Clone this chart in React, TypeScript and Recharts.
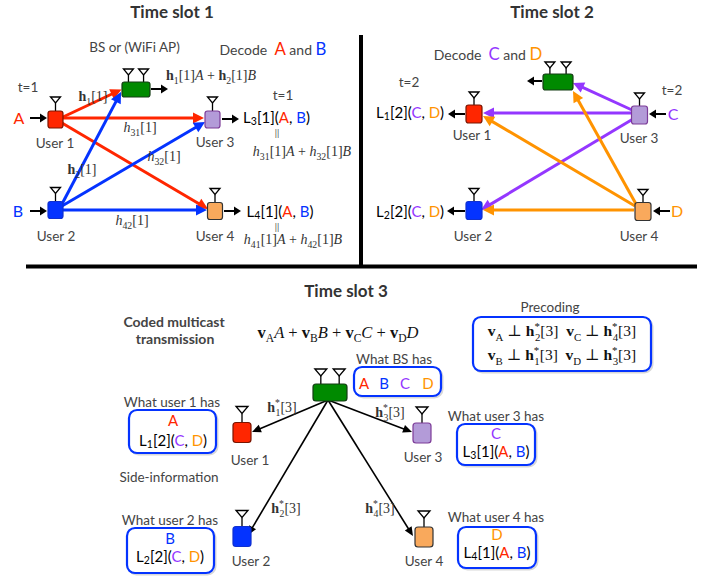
// Three-slot coded multicast diagram drawn on a ScatterChart whose hidden
// axes span the 715x581 canvas, so every mark goes through the chart scales.

import { ScatterChart, Scatter, XAxis, YAxis, ReferenceLine, ReferenceArea } from "recharts";

const W = 715;
const H = 581;

const RED = "#ff2600";
const BLUE = "#0433ff";
const PURPLE = "#9437ff";
const ORANGE = "#ff9300";

const SIGNAL_COLOR: Record<string, string> = { A: RED, B: BLUE, C: PURPLE, D: ORANGE };

// ---- nodes (diagram coordinates) ----
const slot1Nodes = [
  { id: "BS", x: 136, y: 89.5 },
  { id: "U1", x: 55.5, y: 119.5 },
  { id: "U2", x: 55.5, y: 210 },
  { id: "U3", x: 212.5, y: 119.5 },
  { id: "U4", x: 215, y: 211 },
];
const slot2Nodes = [
  { id: "BS", x: 558, y: 82 },
  { id: "U1", x: 474, y: 114 },
  { id: "U2", x: 474, y: 210.5 },
  { id: "U3", x: 639.5, y: 115 },
  { id: "U4", x: 643, y: 211.5 },
];
const slot3Nodes = [
  { id: "BS", x: 330, y: 392.5 },
  { id: "U1", x: 242, y: 432.5 },
  { id: "U2", x: 242, y: 536.5 },
  { id: "U3", x: 422, y: 433 },
  { id: "U4", x: 424, y: 537 },
];

// ---- links: [x1, y1, x2, y2, signal] ----
const slot1Links: [number, number, number, number, string][] = [
  [63, 117, 121.5, 89.5, "A"],
  [63, 118, 204, 118, "A"],
  [62, 123, 208, 209, "A"],
  [62, 204, 121, 92, "B"],
  [62, 206, 205, 122, "B"],
  [63, 210, 207, 210, "B"],
];
const slot2Links: [number, number, number, number, string][] = [
  [632, 110, 573, 83, "C"],
  [632, 113, 483, 113, "C"],
  [633, 119, 481, 210, "C"],
  [636, 204, 573, 91, "D"],
  [635, 206, 483, 116, "D"],
  [634, 210, 483, 210, "D"],
];
const slot3Links: [number, number, number, number][] = [
  [328, 400, 252, 432],
  [328, 400, 412, 432],
  [328, 400, 248, 535],
  [328, 400, 413, 536],
];
const ports: [number, number, number, number][] = [
  [30, 118, 47, 118],
  [30, 211, 47, 211],
  [151, 89, 168, 89],
  [222, 119, 239, 119],
  [224, 211, 241, 211],
  [542, 81, 527, 81],
  [465, 114, 448, 114],
  [666, 114, 649, 114],
  [465, 211, 447, 211],
  [670, 211, 653, 211],
];
const dividers: [number, number, number, number][] = [
  [361, 35, 361, 266],
  [26, 266.5, 697, 266.5],
];

// ---- rounded boxes: [x1, y1, x2, y2] ----
const boxes: [number, number, number, number][] = [
  [473, 317, 651, 371],
  [354, 367, 441, 396],
  [129, 410, 216, 453],
  [127, 528, 214, 573],
  [457, 424, 535, 465],
  [458, 527, 536, 568],
];

// ---- texts ----
const slot1Labels = [
  { x: 172, y: 12, kind: "title", text: "Time slot 1" },
  { x: 134.5, y: 47, kind: "caption", text: "BS or (WiFi AP)" },
  { x: 273, y: 50, kind: "decode", text: "Decode  {A} and {B}" },
  { x: 211, y: 75, kind: "math", text: "~h_{1}[1]A + ~h_{2}[1]B" },
  { x: 28, y: 87, kind: "caption", text: "t=1" },
  { x: 283, y: 95, kind: "caption", text: "t=1" },
  { x: 19, y: 118, kind: "signal", text: "{A}" },
  { x: 18, y: 211, kind: "signal", text: "{B}" },
  { x: 55, y: 143, kind: "caption", text: "User 1" },
  { x: 215, y: 142, kind: "caption", text: "User 3" },
  { x: 56, y: 236, kind: "caption", text: "User 2" },
  { x: 215, y: 236, kind: "caption", text: "User 4" },
  { x: 276.5, y: 118, kind: "tag", text: "L_{3}[1]({A}, {B})" },
  { x: 280, y: 212, kind: "tag", text: "L_{4}[1]({A}, {B})" },
  { x: 277, y: 133, kind: "eq", text: "||" },
  { x: 277, y: 227, kind: "eq", text: "||" },
  { x: 302, y: 151, kind: "math", text: "h_{31}[1]A + h_{32}[1]B" },
  { x: 293, y: 239, kind: "math", text: "h_{41}[1]A + h_{42}[1]B" },
  { x: 93, y: 96, kind: "math", text: "~h_{1}[1]" },
  { x: 140, y: 127, kind: "math", text: "h_{31}[1]" },
  { x: 164, y: 156, kind: "math", text: "h_{32}[1]" },
  { x: 82, y: 169, kind: "math", text: "~h_{2}[1]" },
  { x: 132, y: 220, kind: "math", text: "h_{42}[1]" },
];
const slot2Labels = [
  { x: 552, y: 12, kind: "title", text: "Time slot 2" },
  { x: 488, y: 55, kind: "decode", text: "Decode  {C} and {D}" },
  { x: 409, y: 82, kind: "caption", text: "t=2" },
  { x: 672, y: 90, kind: "caption", text: "t=2" },
  { x: 410, y: 113, kind: "tag", text: "L_{1}[2]({C}, {D})" },
  { x: 410, y: 212, kind: "tag", text: "L_{2}[2]({C}, {D})" },
  { x: 673, y: 114, kind: "signal", text: "{C}" },
  { x: 677, y: 211, kind: "signal", text: "{D}" },
  { x: 472, y: 135, kind: "caption", text: "User 1" },
  { x: 639, y: 138, kind: "caption", text: "User 3" },
  { x: 473, y: 236, kind: "caption", text: "User 2" },
  { x: 639, y: 236, kind: "caption", text: "User 4" },
];
const slot3Labels = [
  { x: 346, y: 291, kind: "title", text: "Time slot 3" },
  { x: 174, y: 322, kind: "head", text: "Coded multicast" },
  { x: 175, y: 339, kind: "head", text: "transmission" },
  { x: 338, y: 332, kind: "bigmath", text: "~v_{A}A + ~v_{B}B + ~v_{C}C + ~v_{D}D" },
  { x: 550, y: 307, kind: "caption", text: "Precoding" },
  { x: 562, y: 331, kind: "boxmath", text: "~v_{A} ⊥ ~h^{*}_{2}[3]  ~v_{C} ⊥ ~h^{*}_{4}[3]" },
  { x: 562, y: 355, kind: "boxmath", text: "~v_{B} ⊥ ~h^{*}_{1}[3]  ~v_{D} ⊥ ~h^{*}_{3}[3]" },
  { x: 394, y: 359, kind: "caption", text: "What BS has" },
  { x: 364, y: 384, kind: "box", text: "{A}" },
  { x: 384, y: 384, kind: "box", text: "{B}" },
  { x: 405, y: 384, kind: "box", text: "{C}" },
  { x: 428, y: 384, kind: "box", text: "{D}" },
  { x: 172, y: 402, kind: "caption", text: "What user 1 has" },
  { x: 173, y: 421, kind: "box", text: "{A}" },
  { x: 173, y: 441, kind: "tag", text: "L_{1}[2]({C}, {D})" },
  { x: 250, y: 460, kind: "caption", text: "User 1" },
  { x: 169, y: 477, kind: "caption", text: "Side-information" },
  { x: 170, y: 520, kind: "caption", text: "What user 2 has" },
  { x: 170, y: 539, kind: "box", text: "{B}" },
  { x: 170, y: 557, kind: "tag", text: "L_{2}[2]({C}, {D})" },
  { x: 251, y: 561, kind: "caption", text: "User 2" },
  { x: 423, y: 457, kind: "caption", text: "User 3" },
  { x: 424, y: 561, kind: "caption", text: "User 4" },
  { x: 282, y: 407, kind: "math", text: "~h^{*}_{1}[3]" },
  { x: 390, y: 412, kind: "math", text: "~h^{*}_{3}[3]" },
  { x: 286, y: 508, kind: "math", text: "~h^{*}_{2}[3]" },
  { x: 380, y: 508, kind: "math", text: "~h^{*}_{4}[3]" },
  { x: 496, y: 416, kind: "caption", text: "What user 3 has" },
  { x: 496, y: 434, kind: "box", text: "{C}" },
  { x: 496, y: 452, kind: "tag", text: "L_{3}[1]({A}, {B})" },
  { x: 496, y: 517, kind: "caption", text: "What user 4 has" },
  { x: 497, y: 535, kind: "box", text: "{D}" },
  { x: 497, y: 553, kind: "tag", text: "L_{4}[1]({A}, {B})" },
];

// ---- styles ----
const SANS = 'Lato, "Open Sans", sans-serif';
const SERIF = '"Liberation Serif", "DejaVu Serif", serif';

type TextStyle = {
  font: string; size: number; weight?: number; fill: string;
  math?: boolean; letter?: number; sup?: number; sub?: number;
};
const TEXT: Record<string, TextStyle> = {
  title: { font: SANS, size: 17, weight: 700, fill: "#333" },
  caption: { font: SANS, size: 13.5, fill: "#444" },
  decode: { font: SANS, size: 14, fill: "#444", letter: 1.2 },
  head: { font: SANS, size: 14, weight: 700, fill: "#444" },
  signal: { font: SANS, size: 16, fill: "#000" },
  box: { font: SANS, size: 15, fill: "#000" },
  tag: { font: SANS, size: 15, fill: "#000", sub: 0.14 },
  math: { font: SERIF, size: 14, fill: "#333", math: true, sup: 0.42, sub: 0.3 },
  bigmath: { font: SERIF, size: 16.5, fill: "#111", math: true, sub: 0.25 },
  boxmath: { font: SERIF, size: 15.5, fill: "#111", math: true, sup: 0.42, sub: 0.3 },
  eq: { font: SANS, size: 9, fill: "#444" },
};

const NODE_FILL: Record<string, string> = { BS: "#008a00", U1: RED, U2: BLUE, U3: "#b39bd8", U4: "#f9a95c" };
const NODE_STROKE: Record<string, string> = { BS: "#143c14", U1: "#7a1500", U2: "#1030d0", U3: "#7d3c98", U4: "#333" };
const USER_SIZE: Record<number, [number, number]> = { 1: [15, 17], 2: [16, 18], 3: [18, 20] };
const BS_SIZE: Record<number, [number, number]> = { 1: [28, 15], 2: [30, 16], 3: [34, 17] };
const ANT_H: Record<number, [number, number]> = { 1: [13, 14], 2: [12, 13], 3: [15, 16] };

type Seg = { t: string; shift: number; bold?: boolean; italic?: boolean; color?: string; small?: boolean; back?: boolean };

function parseMarkup(src: string, math: boolean): Seg[] {
  const out: Seg[] = [];
  let i = 0;
  const plain = (s: string) => {
    if (!math) {
      out.push({ t: s, shift: 0 });
      return;
    }
    (s.match(/[A-Za-z]+|[^A-Za-z]+/g) || []).forEach((p) =>
      out.push({ t: p, shift: 0, italic: /[A-Za-z]/.test(p) })
    );
  };
  while (i < src.length) {
    const c = src[i];
    if (c === "~") {
      out.push({ t: src[i + 1], shift: 0, bold: true });
      i += 2;
      continue;
    }
    if ((c === "_" || c === "^") && src[i + 1] === "{") {
      const end = src.indexOf("}", i);
      const prev = out[out.length - 1];
      out.push({
        t: src.slice(i + 2, end),
        shift: c === "_" ? 1 : -1,
        small: true,
        back: c === "_" && prev?.shift === -1,
      });
      i = end + 1;
      continue;
    }
    if (c === "{") {
      const end = src.indexOf("}", i);
      const t = src.slice(i + 1, end);
      out.push({ t, shift: 0, color: SIGNAL_COLOR[t] });
      i = end + 1;
      continue;
    }
    let j = i;
    while (j < src.length && !"~_^{".includes(src[j])) j++;
    plain(src.slice(i, j));
    i = j;
  }
  return out;
}

function RichText({ cx, cy, text, kind }: { cx: number; cy: number; text: string; kind: string }) {
  const st = TEXT[kind];
  const size = st.size;
  const segs = parseMarkup(text, !!st.math);
  let cur = 0;
  return (
    <text
      x={cx}
      y={cy + size * 0.35}
      textAnchor="middle"
      fontFamily={st.font}
      fontSize={size}
      fontWeight={st.weight ?? 400}
      fill={st.fill}
      style={{ whiteSpace: "pre" }}
    >
      {segs.map((s, k) => {
        const target = s.shift === 1 ? size * (st.sub ?? 0.25) : s.shift === -1 ? -size * (st.sup ?? 0.4) : 0;
        const dy = target - cur;
        cur = target;
        let fs = s.small ? size * 0.7 : size;
        if (s.color && st.letter) fs = size * st.letter;
        return (
          <tspan
            key={k}
            dy={dy}
            dx={s.back ? -fs * 0.45 : 0}
            fontSize={fs}
            fontWeight={s.bold ? 700 : undefined}
            fontStyle={s.italic ? "italic" : undefined}
            fill={s.color}
          >
            {s.t}
          </tspan>
        );
      })}
    </text>
  );
}

const labelShape = (p: any) => <RichText cx={p.cx} cy={p.cy} text={p.payload.text} kind={p.payload.kind} />;

function nodeShape(slot: number) {
  return (p: any) => {
    const { cx, cy } = p;
    const id: string = p.payload.id;
    const isBS = id === "BS";
    const [w, h] = isBS ? BS_SIZE[slot] : USER_SIZE[slot];
    const top = cy - h / 2;
    const antH = isBS ? ANT_H[slot][0] : ANT_H[slot][1];
    const triW = slot === 3 ? 12 : 10;
    const triH = slot === 3 ? 7 : 6;
    const ants = isBS ? [cx - w * 0.27, cx + w * 0.27] : [cx];
    return (
      <g>
        {ants.map((ax, k) => (
          <g key={k}>
            <line x1={ax} y1={top - antH + triH} x2={ax} y2={top} stroke="#000" strokeWidth={1.3} />
            <polygon
              points={`${ax - triW / 2},${top - antH} ${ax + triW / 2},${top - antH} ${ax},${top - antH + triH}`}
              fill="#fff"
              stroke="#000"
              strokeWidth={1.3}
            />
          </g>
        ))}
        <rect x={cx - w / 2} y={top} width={w} height={h} rx={slot === 3 ? 3 : 2.5} fill={NODE_FILL[id]} stroke={NODE_STROKE[id]} strokeWidth={1.2} />
      </g>
    );
  };
}

function arrowShape(head: number, half: number) {
  return (p: any) => {
    const { x1, y1, x2, y2, stroke, strokeWidth } = p;
    const dx = x2 - x1;
    const dy = y2 - y1;
    const len = Math.hypot(dx, dy) || 1;
    const ux = dx / len;
    const uy = dy / len;
    const bx = x2 - ux * head;
    const by = y2 - uy * head;
    const px = -uy * half;
    const py = ux * half;
    return (
      <g>
        <line x1={x1} y1={y1} x2={bx + ux} y2={by + uy} stroke={stroke} strokeWidth={strokeWidth} />
        <polygon points={`${x2},${y2} ${bx + px},${by + py} ${bx - px},${by - py}`} fill={stroke} />
      </g>
    );
  };
}

const plainLine = (p: any) => <line x1={p.x1} y1={p.y1} x2={p.x2} y2={p.y2} stroke={p.stroke} strokeWidth={p.strokeWidth} />;

const roundBox = (p: any) => (
  <g>
    <rect x={p.x + 1.5} y={p.y + 1.5} width={p.width} height={p.height} rx={8} fill="none" stroke="#d8d8d8" strokeWidth={2} />
    <rect x={p.x} y={p.y} width={p.width} height={p.height} rx={8} fill="#fff" stroke={BLUE} strokeWidth={2.2} />
  </g>
);

const colorArrow = arrowShape(11, 5.5);
const smallArrow = arrowShape(7, 4.5);
const thinArrow = arrowShape(9, 4);

export default function App() {
  const allLabels = [...slot1Labels, ...slot2Labels, ...slot3Labels];
  return (
    <div style={{ position: "absolute", left: 0, top: 0, width: W, height: H, background: "#fff" }}>
      <ScatterChart width={W} height={H} margin={{ top: 0, right: 0, bottom: 0, left: 0 }}>
        <XAxis type="number" dataKey="x" domain={[0, W]} allowDataOverflow hide />
        <YAxis type="number" dataKey="y" domain={[0, H]} allowDataOverflow reversed hide />

        {dividers.map(([a, b, c, d], k) => (
          <ReferenceLine key={`dv${k}`} segment={[{ x: a, y: b }, { x: c, y: d }]} stroke="#000" strokeWidth={4} shape={plainLine} ifOverflow="visible" />
        ))}

        {boxes.map(([a, b, c, d], k) => (
          <ReferenceArea key={`bx${k}`} x1={a} x2={c} y1={b} y2={d} shape={roundBox} ifOverflow="visible" />
        ))}

        {[...slot1Links, ...slot2Links].map(([a, b, c, d, s], k) => (
          <ReferenceLine key={`ln${k}`} segment={[{ x: a, y: b }, { x: c, y: d }]} stroke={SIGNAL_COLOR[s]} strokeWidth={3} shape={colorArrow} ifOverflow="visible" />
        ))}

        {slot3Links.map(([a, b, c, d], k) => (
          <ReferenceLine key={`bl${k}`} segment={[{ x: a, y: b }, { x: c, y: d }]} stroke="#000" strokeWidth={1.6} shape={thinArrow} ifOverflow="visible" />
        ))}

        {ports.map(([a, b, c, d], k) => (
          <ReferenceLine key={`pt${k}`} segment={[{ x: a, y: b }, { x: c, y: d }]} stroke="#000" strokeWidth={2} shape={smallArrow} ifOverflow="visible" />
        ))}

        <Scatter data={slot1Nodes} shape={nodeShape(1)} isAnimationActive={false} />
        <Scatter data={slot2Nodes} shape={nodeShape(2)} isAnimationActive={false} />
        <Scatter data={slot3Nodes} shape={nodeShape(3)} isAnimationActive={false} />
        <Scatter data={allLabels} shape={labelShape} isAnimationActive={false} />
      </ScatterChart>
    </div>
  );
}
